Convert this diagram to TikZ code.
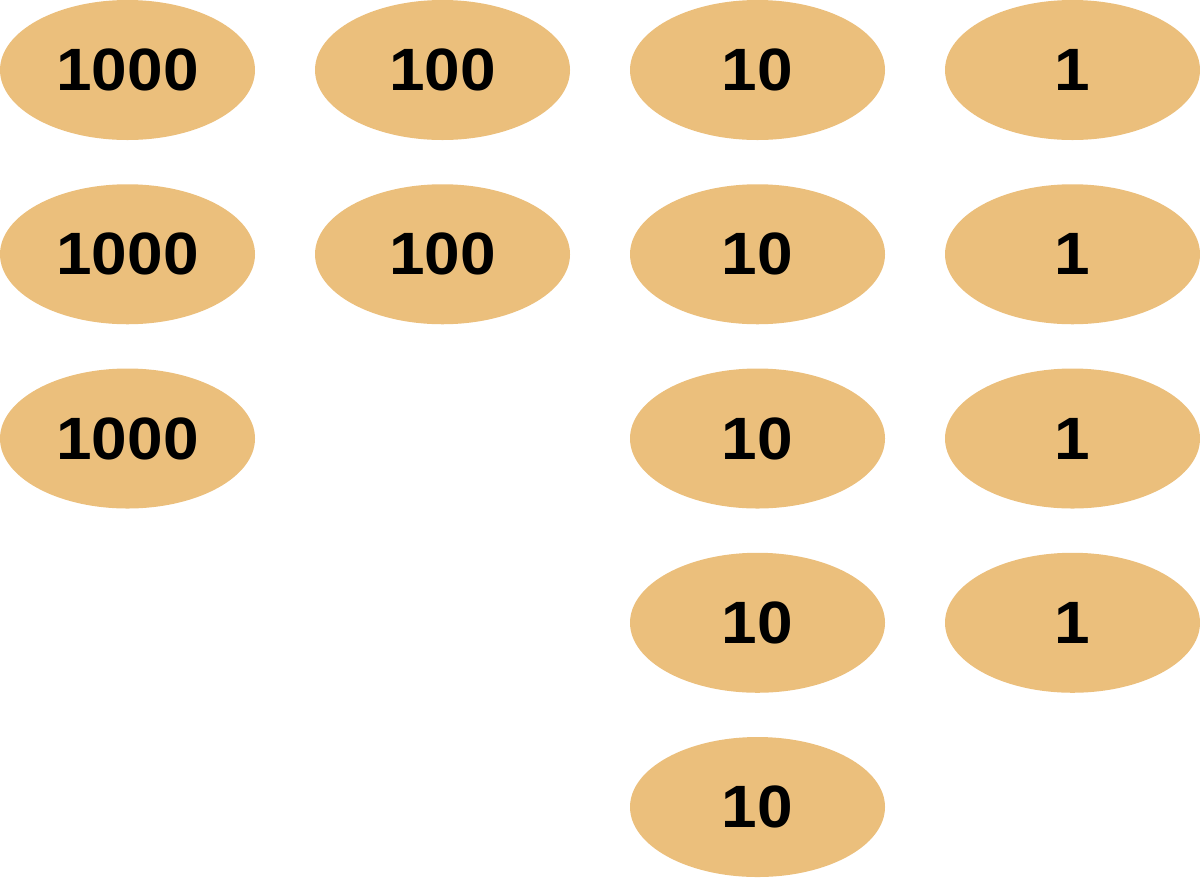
\documentclass[tikz,border=0pt]{standalone}
\usepackage{fontspec}
\setmainfont{Liberation Sans}[BoldFeatures={FakeStretch=1.07}]
\usepackage{xcolor}
\usepackage{tikz}
\usetikzlibrary{shapes.geometric}
\definecolor{chipfill}{HTML}{EBBF7C}

\begin{document}
\begin{tikzpicture}[x=1cm, y=-1cm,
  chip/.style={ellipse, fill=chipfill, draw=none, minimum width=5.1cm,
               minimum height=2.8cm, inner sep=0pt,
               font=\fontsize{34}{34}\selectfont\bfseries}]
  \useasboundingbox (0,0) rectangle (24,17.66);

  % Thousands column
  \foreach \r in {1,...,3}
    \node[chip] (th\r) at (2.55, {1.4+3.685*(\r-1)}) {1000};
  % Hundreds column
  \foreach \r in {1,2}
    \node[chip] (hu\r) at (8.85, {1.4+3.685*(\r-1)}) {100};
  % Tens column
  \foreach \r in {1,...,5}
    \node[chip] (te\r) at (15.15, {1.4+3.685*(\r-1)}) {10};
  % Ones column
  \foreach \r in {1,...,4}
    \node[chip] (on\r) at (21.45, {1.4+3.685*(\r-1)}) {1};
\end{tikzpicture}
\end{document}
